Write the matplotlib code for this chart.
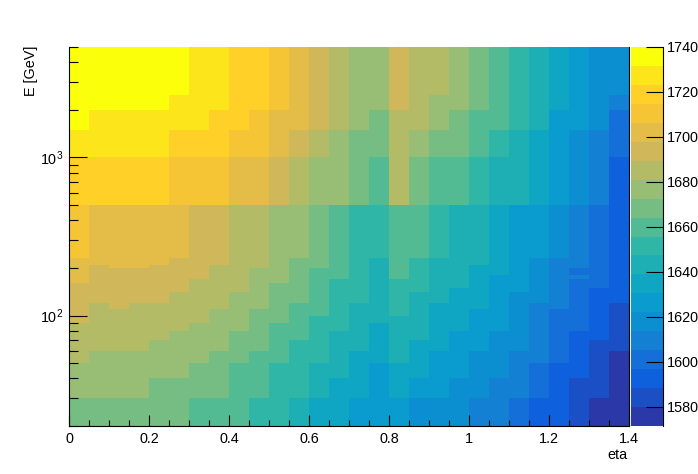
import numpy as np
import matplotlib
matplotlib.use('Agg')
import matplotlib.pyplot as plt
from matplotlib.colors import ListedColormap, BoundaryNorm
from matplotlib.ticker import FixedLocator, FixedFormatter, MultipleLocator, NullFormatter

plt.rcParams['font.family'] = ['Liberation Sans', 'DejaVu Sans']
plt.rcParams['mathtext.default'] = 'regular'

# bin edges
eta_edges = np.arange(0, 29) * 0.05
E_edges = [20, 30, 40, 50, 60, 70, 80, 90, 100, 110, 120, 140, 150, 160, 170, 180,
           200, 210, 230, 500, 1000, 1500, 2000, 2500, 5000]

# map values, one row per E bin (lowest E first), 28 eta bins
Z = [
    [1668,1668,1668,1668,1668,1668,1660,1660,1660,1652,1652,1643,1635,1635,1626,1626,1626,1618,1618,1618,1610,1610,1601,1593,1593,1584,1576,1576],
    [1677,1677,1677,1677,1668,1668,1668,1668,1660,1660,1652,1652,1643,1635,1635,1626,1635,1626,1626,1618,1618,1610,1610,1601,1593,1584,1584,1576],
    [1677,1677,1677,1677,1677,1677,1668,1668,1660,1660,1652,1652,1643,1643,1635,1626,1635,1635,1626,1626,1618,1618,1610,1601,1593,1593,1584,1576],
    [1685,1677,1677,1677,1677,1677,1677,1668,1668,1660,1660,1652,1652,1643,1635,1635,1643,1635,1626,1626,1618,1618,1610,1610,1601,1593,1584,1576],
    [1685,1685,1685,1685,1677,1677,1677,1677,1668,1668,1660,1652,1652,1643,1643,1635,1643,1635,1635,1626,1626,1618,1618,1610,1601,1593,1584,1584],
    [1685,1685,1685,1685,1685,1677,1677,1677,1668,1668,1660,1660,1652,1643,1643,1635,1643,1643,1635,1626,1626,1618,1618,1610,1601,1593,1593,1584],
    [1685,1685,1685,1685,1685,1685,1677,1677,1677,1668,1660,1660,1652,1652,1643,1635,1643,1643,1635,1635,1626,1626,1618,1610,1601,1601,1593,1584],
    [1694,1685,1685,1685,1685,1685,1685,1677,1677,1668,1668,1660,1652,1652,1643,1643,1643,1643,1635,1635,1626,1626,1618,1610,1601,1601,1593,1584],
    [1694,1685,1685,1685,1685,1685,1685,1677,1677,1668,1668,1660,1660,1652,1643,1643,1652,1643,1635,1635,1626,1626,1618,1610,1601,1601,1593,1584],
    [1694,1685,1694,1685,1685,1685,1685,1685,1677,1677,1668,1660,1660,1652,1643,1643,1652,1643,1635,1635,1635,1626,1618,1610,1610,1601,1593,1584],
    [1694,1694,1694,1694,1694,1685,1685,1685,1677,1677,1668,1668,1660,1652,1652,1643,1652,1643,1643,1635,1635,1626,1618,1618,1610,1601,1593,1593],
    [1694,1694,1694,1694,1694,1694,1685,1685,1685,1677,1668,1668,1660,1652,1652,1643,1652,1652,1643,1635,1635,1626,1626,1618,1610,1601,1593,1593],
    [1694,1694,1694,1694,1694,1694,1685,1685,1685,1677,1668,1668,1660,1652,1652,1643,1652,1652,1643,1643,1635,1626,1626,1618,1610,1601,1601,1593],
    [1702,1694,1694,1694,1694,1694,1685,1685,1685,1677,1677,1668,1660,1652,1652,1643,1652,1652,1643,1643,1635,1626,1626,1618,1610,1601,1601,1593],
    [1702,1694,1694,1694,1694,1694,1694,1685,1685,1677,1677,1668,1660,1660,1652,1643,1660,1652,1643,1643,1635,1626,1626,1618,1610,1610,1601,1593],
    [1702,1694,1694,1694,1694,1694,1694,1685,1685,1677,1677,1668,1660,1660,1652,1643,1660,1652,1643,1643,1635,1635,1626,1618,1610,1601,1601,1593],
    [1702,1694,1702,1702,1694,1694,1694,1685,1685,1685,1677,1668,1668,1660,1652,1643,1660,1652,1643,1643,1635,1635,1626,1618,1610,1610,1601,1593],
    [1702,1702,1702,1702,1702,1694,1694,1694,1685,1685,1677,1668,1668,1660,1652,1643,1660,1652,1643,1643,1643,1635,1626,1618,1610,1610,1601,1593],
    [1710,1702,1702,1702,1702,1702,1694,1694,1685,1685,1677,1677,1668,1660,1652,1652,1660,1660,1652,1643,1643,1635,1626,1626,1618,1610,1601,1593],
    [1719,1719,1719,1719,1719,1710,1710,1710,1702,1702,1694,1685,1677,1677,1668,1660,1685,1668,1660,1660,1652,1643,1643,1635,1626,1618,1610,1593],
    [1727,1727,1727,1727,1727,1719,1719,1719,1710,1710,1702,1694,1685,1677,1668,1668,1685,1677,1668,1668,1660,1652,1643,1635,1626,1618,1610,1601],
    [1736,1727,1727,1727,1727,1727,1727,1719,1719,1710,1702,1702,1694,1685,1677,1668,1685,1685,1677,1668,1660,1660,1652,1643,1626,1626,1618,1601],
    [1736,1736,1736,1736,1736,1727,1727,1727,1719,1719,1710,1702,1694,1685,1677,1677,1694,1685,1677,1677,1668,1660,1652,1643,1635,1626,1618,1610],
    [1736,1736,1736,1736,1736,1736,1727,1727,1719,1719,1710,1702,1694,1685,1677,1677,1694,1685,1685,1677,1668,1660,1652,1643,1635,1626,1618,1618],
]

# colour levels, low to high
z_min, z_max = 1571.5, 1740
level_colors = ['#2A38A8', '#1A4FC5', '#0F60DC', '#146FD9', '#1480D4', '#0C8FD0', '#0A9CCF',
                '#0FA6C4', '#1DAFB3', '#2FB6A6', '#52BB94', '#75BD83', '#97BE74', '#B4BB67',
                '#D0B75A', '#E3BD48', '#F5C535', '#FFD028', '#FDE51B', '#FBFF0A']
cbar_ticks = np.arange(1580, 1741, 20)
eta_ticks = [0, 0.2, 0.4, 0.6, 0.8, 1.0, 1.2, 1.4]
eta_labels = ['0', '0.2', '0.4', '0.6', '0.8', '1', '1.2', '1.4']

W, H = 698, 474
fig = plt.figure(figsize=(W / 100, H / 100), dpi=100)
ax = fig.add_axes([69 / W, 1 - 426 / H, 560 / W, 379 / H])
cax = fig.add_axes([631 / W, 1 - 426 / H, 32 / W, 379 / H])

cmap = ListedColormap(level_colors)
norm = BoundaryNorm(np.linspace(z_min, z_max, 21), 20)
mesh = ax.pcolormesh(eta_edges, E_edges, np.array(Z), cmap=cmap, norm=norm, linewidth=0, rasterized=True)

ax.set_yscale('log')
ax.set_xlim(0, 1.4)
ax.set_ylim(20, 5000)

label_size = 10.4
ax.xaxis.set_major_locator(FixedLocator(eta_ticks))
ax.xaxis.set_major_formatter(FixedFormatter(eta_labels))
ax.xaxis.set_minor_locator(MultipleLocator(0.05))
ax.yaxis.set_major_locator(FixedLocator([100, 1000]))
ax.yaxis.set_major_formatter(FixedFormatter([r'$10^{2}$', r'$10^{3}$']))
ax.yaxis.set_minor_locator(FixedLocator([20, 30, 40, 50, 60, 70, 80, 90, 200, 300, 400, 500, 600, 700, 800, 900, 2000, 3000, 4000, 5000]))
ax.yaxis.set_minor_formatter(NullFormatter())

ax.tick_params(axis='x', which='major', direction='in', length=8, width=0.8, labelsize=label_size, pad=4.5)
ax.tick_params(axis='x', which='minor', direction='in', length=4.3, width=0.8)
ax.tick_params(axis='y', which='major', direction='in', length=13, width=0.8, labelsize=label_size, pad=4)
ax.tick_params(axis='y', which='minor', direction='in', length=6.8, width=0.8)

ax.spines['top'].set_visible(False)
for side in ['left', 'bottom', 'right']:
    ax.spines[side].set_linewidth(0.8)

cbar = fig.colorbar(mesh, cax=cax, ticks=cbar_ticks, spacing='proportional')
cbar.outline.set_visible(False)
cax.spines['right'].set_visible(True)
cax.spines['right'].set_linewidth(0.8)
cax.minorticks_off()
cax.tick_params(axis='y', direction='in', length=12.6, width=0.8, labelsize=label_size, pad=3)

fig.text(628 / W, 1 - 455 / H, 'eta', ha='right', va='center', fontsize=label_size)
fig.text(31 / W, 1 - 46 / H, 'E [GeV]', ha='center', va='top', rotation=90, fontsize=label_size)

fig.savefig('out.png', dpi=100)
